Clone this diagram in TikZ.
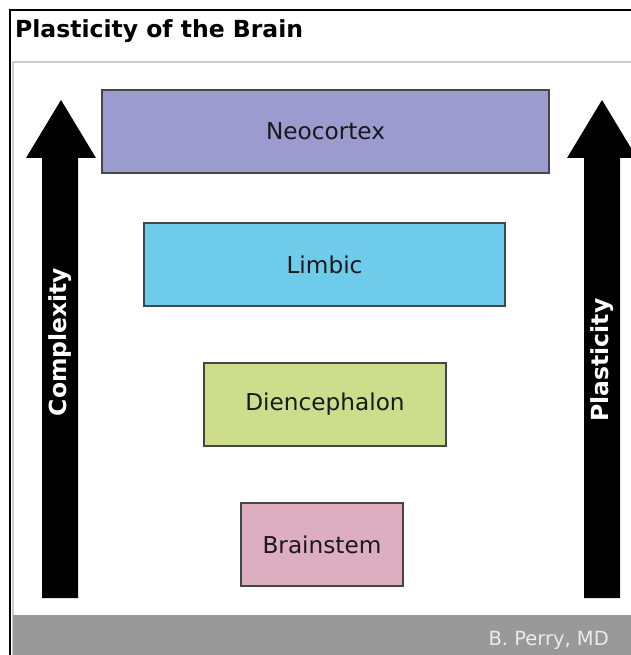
\documentclass[tikz,border=0pt]{standalone}
\usepackage{fontspec}
\setmainfont{DejaVu Sans}
\definecolor{neo}{RGB}{155,155,208}
\definecolor{lim}{RGB}{110,203,234}
\definecolor{dien}{RGB}{206,221,140}
\definecolor{brain}{RGB}{220,174,192}
\definecolor{foot}{RGB}{153,153,153}
\definecolor{panel}{RGB}{204,204,204}
\definecolor{boxline}{RGB}{70,70,70}
\begin{document}
\begin{tikzpicture}[x=1pt,y=-1pt,
  layer/.style={draw=boxline,line width=1.5pt,font=\fontsize{23.2}{26}\selectfont,text=black!90},
  arrowshape/.style={fill=black},
  arrowtext/.style={text=white,font=\bfseries\fontsize{23.5}{26}\selectfont,rotate=90}]
\useasboundingbox (0,0) rectangle (630,655);
\fill[white] (0,0) rectangle (630,655);
% outer frame
\draw[black,line width=1.5pt] (10,655) -- (10,10) -- (631,10);
% title
\node[anchor=base west,inner sep=0pt,font=\bfseries\fontsize{23.5}{26}\selectfont] (title) at (15,38) {Plasticity of the Brain};
% inner panel
\draw[panel,line width=1.5pt] (13,655) -- (13,62) -- (631,62);
\fill[foot] (12.5,615) rectangle (631,656);
\node[anchor=base east,inner sep=0pt,text=black!8,font=\fontsize{19.5}{22}\selectfont] (credit) at (609,645) {B. Perry, MD};
% arrows
\fill[arrowshape] (61,100) -- (96,158) -- (78,158) -- (78,598) -- (42,598) -- (42,158) -- (26,158) -- cycle;
\fill[arrowshape] (602,100) -- (637,158) -- (620,158) -- (620,598) -- (584,598) -- (584,158) -- (567,158) -- cycle;
\node[arrowtext] (cx) at (60,342) {Complexity};
\node[arrowtext] (px) at (602,360) {Plasticity};
% layers
\node[layer,fill=neo,minimum width=447pt,minimum height=83pt] (neo) at (325.5,131.5) {Neocortex};
\node[layer,fill=lim,minimum width=361pt,minimum height=83pt] (lim) at (324.5,264.5) {Limbic};
\node[layer,fill=dien,minimum width=242pt,minimum height=83pt] (dien) at (325,404.5) {Diencephalon};
\node[layer,fill=brain,minimum width=162pt,minimum height=83pt] (brain) at (322,544.5) {Brainstem};
\end{tikzpicture}
\end{document}
